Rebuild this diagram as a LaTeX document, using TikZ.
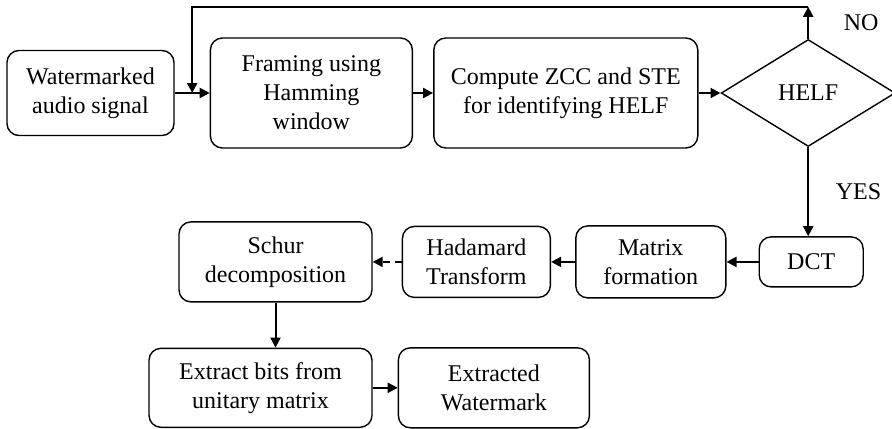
\documentclass[tikz,border=0pt]{standalone}
\usepackage{fontspec}
\setmainfont{LiberationSerif}[Extension=.ttf, UprightFont=*-Regular, BoldFont=*-Bold]
\usepackage{tikz}
\usetikzlibrary{arrows.meta, positioning, shapes.geometric, calc}

\begin{document}
\begin{tikzpicture}[
        >={Triangle[length=5pt, width=5pt]},
        procbox/.style={rectangle, draw, line width=0.7pt, rounded corners=6pt, align=center, inner sep=2pt, font=\rmfamily\fontsize{12}{14.5}\selectfont},
        decision/.style={diamond, draw, line width=0.7pt, inner sep=0pt, minimum width=87pt, minimum height=53.5pt, font=\rmfamily\fontsize{12}{14.5}\selectfont},
        arrow/.style={->, line width=1pt},
        dasharrow/.style={arrow, dash pattern=on 3.5pt off 2.5pt},
        labelnode/.style={font=\rmfamily\fontsize{12}{14.5}\selectfont}
    ]

    % fixed frame for the page
    \useasboundingbox (-45.25pt,46.5pt) rectangle (400.75pt,-167.5pt);

    % --- Top row ---
    \node[procbox, minimum width=83.5pt, minimum height=42.5pt] (wm) {Watermarked\\audio signal};
    \node[procbox, minimum width=101pt, minimum height=55pt, right=17.5pt of wm] (frame) {Framing using\\Hamming\\window};
    \node[procbox, minimum width=132pt, minimum height=55pt, right=10pt of frame] (zcc) {Compute ZCC and STE\\for identifying HELF};
    \node[decision, right=11pt of zcc] (helf) {HELF};

    % --- Middle row (right to left) ---
    \node[procbox, minimum width=52pt, minimum height=25pt, below=44.5pt of helf, xshift=1.5pt] (dct) {DCT};
    \node[procbox, minimum width=75pt, minimum height=36pt, left=16pt of dct] (matrix) {Matrix\\formation};
    \node[procbox, minimum width=74pt, minimum height=35.5pt, left=12pt of matrix] (hadamard) {Hadamard\\Transform};
    \node[procbox, minimum width=96.5pt, minimum height=40pt, left=14.5pt of hadamard] (schur) {Schur\\decomposition};

    % --- Bottom row ---
    \node[procbox, minimum width=111.5pt, minimum height=39.5pt, below=22.5pt of schur.south east, anchor=north east] (bits) {Extract bits from\\unitary matrix};
    \node[procbox, minimum width=95.5pt, minimum height=40pt, right=12.5pt of bits] (wmout) {Extracted\\Watermark};

    % --- Connections ---
    \coordinate (loop) at ($(wm.east)!0.5!(frame.west)$);
    \coordinate (top) at ($(helf.north)+(0,16pt)$);

    \draw[arrow] (wm.east) -- (wm.east -| frame.west);
    \draw[arrow] (frame.east) -- (zcc.west);
    \draw[arrow] (zcc.east) -- (helf.west);

    % NO branch goes back to framing
    \draw[arrow] (helf.north) -- node[labelnode, right=14pt] {NO} (top);
    \draw[arrow] (top) -| (loop);

    % YES branch
    \draw[arrow] (helf.south) -- node[labelnode, right=10pt] {YES} (helf.south |- dct.north);
    \draw[arrow] (dct.west) -- (dct.west -| matrix.east);
    \draw[arrow] (matrix.west) -- (matrix.west -| hadamard.east);
    \draw[dasharrow] (hadamard.west) -- (hadamard.west -| schur.east);
    \draw[arrow] (schur.south) -- (schur.south |- bits.north);
    \draw[arrow] (bits.east) -- (wmout.west);

\end{tikzpicture}
\end{document}
